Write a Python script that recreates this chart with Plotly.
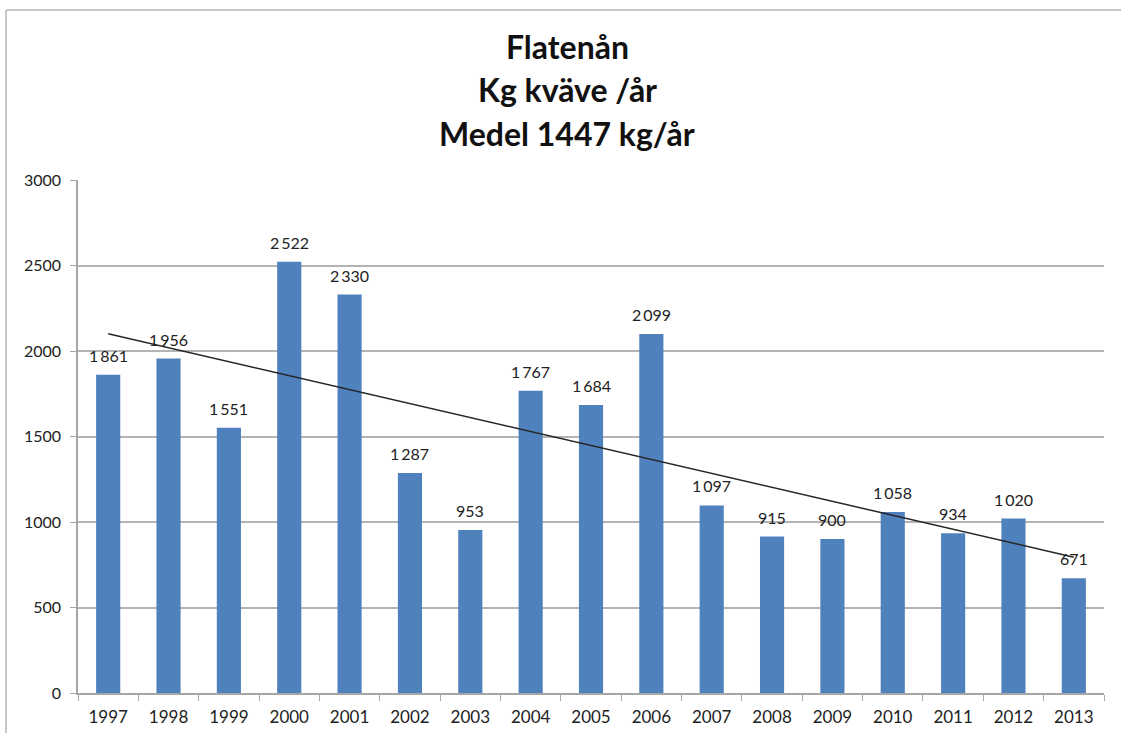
import numpy as np
import plotly.graph_objects as go

years = ["1997", "1998", "1999", "2000", "2001", "2002", "2003", "2004", "2005",
         "2006", "2007", "2008", "2009", "2010", "2011", "2012", "2013"]
values = [1861, 1956, 1551, 2522, 2330, 1287, 953, 1767, 1684, 2099, 1097, 915,
          900, 1058, 934, 1020, 671]
title_lines = ["Flatenån", "Kg kväve /år", "Medel 1447 kg/år"]
y_ticks = [0, 500, 1000, 1500, 2000, 2500, 3000]

def fmt(v):
    return f"{v:,}".replace(",", "\u2009")

# linear trend (least squares) as in the spreadsheet trendline
idx = np.arange(len(values))
slope, intercept = np.polyfit(idx, values, 1)
trend = list(intercept + slope * idx)

W, H = 1121, 733
L, R, T, B = 78, 1104, 180, 693
FONT = "Lato, Open Sans, sans-serif"

fig = go.Figure()
fig.add_trace(go.Bar(
    x=years, y=values,
    marker=dict(color="#4F81BD", line=dict(width=0)),
    hoverinfo="skip",
))
fig.add_trace(go.Scatter(
    x=years, y=trend, mode="lines",
    line=dict(color="#262626", width=1.5), hoverinfo="skip",
))

for i, v in enumerate(values):
    fig.add_annotation(
        x=i, y=v, xref="x", yref="y", text=fmt(v), showarrow=False,
        yanchor="bottom", xanchor="center", yshift=8,
        font=dict(family=FONT, size=16, color="#222222"),
    )

def px_x(p):
    return (p - L) / (R - L)

def px_y(p):
    return (B - p) / (B - T)

for txt, yy in zip(title_lines, [47, 90, 133]):
    fig.add_annotation(
        text=f"<b>{txt}</b>", xref="paper", yref="paper",
        x=px_x(567), y=px_y(yy), xanchor="center", yanchor="middle",
        showarrow=False,
        font=dict(family=FONT, size=32, color="#111111"),
    )

# chart frame lines
fig.add_shape(type="line", xref="paper", yref="paper",
              x0=px_x(6), x1=px_x(6), y0=px_y(10), y1=px_y(760),
              line=dict(color="#c8c8c8", width=2))
fig.add_shape(type="line", xref="paper", yref="paper",
              x0=px_x(6), x1=px_x(1130), y0=px_y(10), y1=px_y(10),
              line=dict(color="#c8c8c8", width=2))

fig.update_layout(
    width=W, height=H,
    margin=dict(l=L, r=W - R, t=T, b=H - B, autoexpand=False),
    paper_bgcolor="white", plot_bgcolor="white",
    showlegend=False, bargap=0.6,
    font=dict(family=FONT, size=16, color="#222222"),
)
fig.update_xaxes(
    type="category", showgrid=False, showline=True, linecolor="#a6a6a6", linewidth=1.5,
    ticks="outside", ticklen=6, tickcolor="#a6a6a6", tickson="boundaries",
    tickfont=dict(size=17, color="#222222"), ticklabelstandoff=8,
)
fig.update_yaxes(
    range=[0, 3000], tickvals=y_ticks, showgrid=True, gridcolor="#b3b3b3", gridwidth=1.5,
    showline=True, linecolor="#a6a6a6", linewidth=1.5, zeroline=False,
    ticks="outside", ticklen=6, tickcolor="#a6a6a6",
    tickfont=dict(size=16, color="#222222"), ticklabelstandoff=6,
)

fig.write_html("out.html", config={"displayModeBar": False},
               post_script="document.body.style.margin='0';document.body.style.overflow='hidden';")
